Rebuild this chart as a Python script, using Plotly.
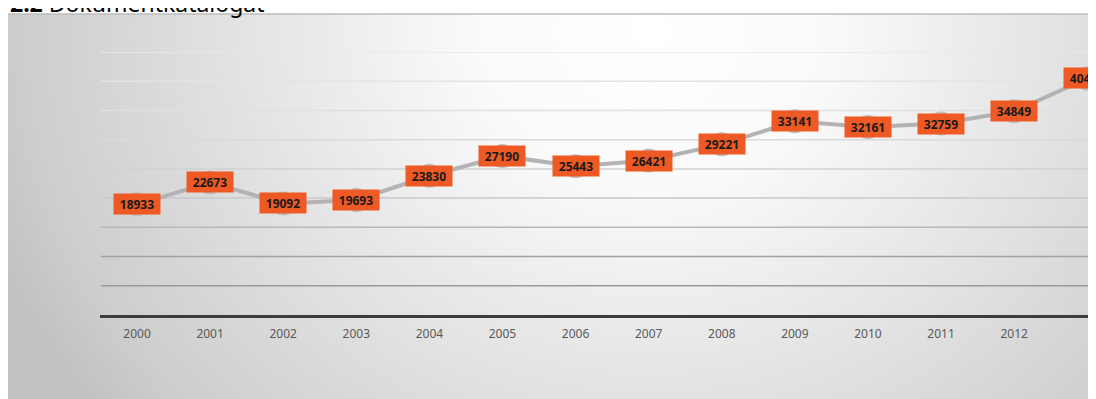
import plotly.graph_objects as go

YEARS = [2000, 2001, 2002, 2003, 2004, 2005, 2006, 2007, 2008, 2009, 2010, 2011, 2012, 2013]
DOCUMENTS = [18933, 22673, 19092, 19693, 23830, 27190, 25443, 26421, 29221, 33141, 32161, 32759, 34849, 40470]
GRID_VALUES = [5000, 10000, 15000, 20000, 25000, 30000, 35000, 40000, 45000]
TITLE = '<b>2.2</b> Dokumentkatalogat'

# styling
X_RANGE = [1999.5, 2013.12]
GRID_COLORS = ['#9a9a9a', '#a2a2a2', '#b8b8b8', '#c8c8c8', '#d2d2d2', '#dadada', '#e0e0e0', '#e4e4e4', '#e8e8e8']
LABEL_BG = '#ef5a24'
LINE_GRAY = '#b3b3b3'
BG_SCALE = [[0, '#ffffff'], [0.25, '#fafafa'], [0.6, '#e2e2e2'], [0.9, '#cdcdcd'], [1, '#c2c2c2']]

H = 391
TOP = 6

def py(px_from_fig_top):
    # pixel row inside the figure -> paper fraction
    return (H - px_from_fig_top) / (H - TOP)

fig = go.Figure()

# radial gradient background of the chart box (own invisible axes, drawn first)
fig.add_trace(go.Scatter(
    x=[-0.053, 1.233, 1.233, -0.053, -0.053],
    y=[py(22) - 1.6, py(22) - 1.6, py(22) + 1.6, py(22) + 1.6, py(22) - 1.6],
    mode='lines', line=dict(width=0), fill='toself',
    fillgradient=dict(type='radial', colorscale=BG_SCALE),
    hoverinfo='skip', showlegend=False, xaxis='x', yaxis='y',
))

fig.add_trace(go.Scatter(
    x=YEARS, y=DOCUMENTS, mode='lines+markers',
    line=dict(color=LINE_GRAY, width=4),
    marker=dict(size=24, color='#bdbdbd'),
    cliponaxis=False, hoverinfo='skip', showlegend=False,
    xaxis='x2', yaxis='y2',
))

for val, col in zip(GRID_VALUES, GRID_COLORS):
    fig.add_shape(type='line', xref='x2', yref='y2', x0=X_RANGE[0], x1=X_RANGE[1], y0=val, y1=val,
                  line=dict(color=col, width=1.5), layer='below')

for yr, val in zip(YEARS, DOCUMENTS):
    fig.add_annotation(x=yr, y=val, xref='x2', yref='y2', text=f'<b>{val}</b>', showarrow=False,
                       bgcolor=LABEL_BG, width=46, height=20, borderpad=0,
                       font=dict(family='Noto Sans', size=12, color='#1a1a1a'))

# section heading of the page, only its lower part shows above the chart box
fig.add_annotation(x=0, y=1, xref='paper', yref='paper', xanchor='left', yanchor='bottom',
                   text=TITLE, showarrow=False, yshift=-7,
                   font=dict(family='Noto Sans', size=23, color='#000000'))

fig.add_shape(type='line', xref='paper', yref='paper', x0=0, x1=1, y0=1, y1=1,
              line=dict(color='#bdbdbd', width=1.5))

fig.update_layout(
    width=1088, height=H,
    margin=dict(l=0, r=0, t=TOP, b=0),
    paper_bgcolor='white', plot_bgcolor='rgba(0,0,0,0)',
    xaxis=dict(domain=[0, 1], range=[0, 1], visible=False, fixedrange=True),
    yaxis=dict(domain=[0, 1], range=[0, 1], visible=False, fixedrange=True),
    xaxis2=dict(domain=[0.085, 1], range=X_RANGE, anchor='y2',
                tickvals=YEARS, ticktext=[str(y) for y in YEARS],
                showgrid=False, zeroline=False, showline=True, linecolor='#3c3c3c', linewidth=3,
                ticks='', ticklabelstandoff=6,
                tickfont=dict(family='Noto Sans', size=12, color='#595959')),
    yaxis2=dict(domain=[py(307), py(44)], range=[0, 45000], anchor='x2',
                showgrid=False, zeroline=False, showticklabels=False, ticks=''),
    showlegend=False,
)

fig.write_html('out.html')
